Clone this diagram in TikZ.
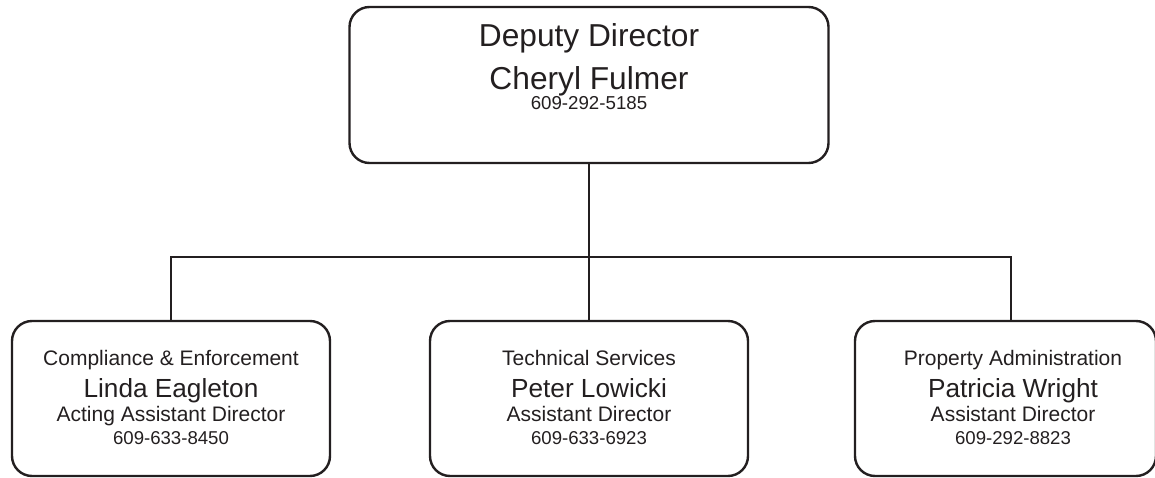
\documentclass[tikz,border=0pt]{standalone}
\usepackage{fontspec}
\setmainfont{Liberation Sans}
\usepackage{tikz}
\definecolor{ink}{HTML}{231F20}

\begin{document}
\begin{tikzpicture}[x=1pt, y=-1pt,
    unit/.style={draw=ink, line width=2.4pt, rounded corners=20pt, minimum width=318pt, minimum height=155pt, inner sep=0pt},
    info/.style={anchor=north, align=center, inner sep=0pt, text=ink, font=\fontsize{21}{30}\selectfont},
    link/.style={draw=ink, line width=2.4pt}]
  \useasboundingbox (0,0) rectangle (1155,478);
  \clip (0,0) rectangle (1155,478);
  % boxes
  \node[unit, minimum width=479pt, minimum height=156pt] (dep) at (589,85) {};
  \node[unit] (comp) at (171,398.5) {};
  \node[unit] (tech) at (589,398.5) {};
  \node[unit, minimum width=301pt] (prop) at (1005.5,398.5) {};
  % texts
  \node[info, font=\fontsize{31.7}{43}\selectfont] (deptext) at ([yshift=-17.3pt]dep.north) {Deputy Director\\Cheryl Fulmer\\[-23pt]{\fontsize{18.7}{20}\selectfont 609-292-5185}};
  \node[info] (comptext) at ([yshift=-30.7pt]comp.north) {Compliance \& Enforcement\\[2pt]{\fontsize{26.2}{30}\selectfont Linda Eagleton}\\[-6pt]Acting Assistant Director\\[-7pt]{\fontsize{18.6}{30}\selectfont 609-633-8450}};
  \node[info] (techtext) at ([yshift=-30.7pt]tech.north) {Technical Services\\[2pt]{\fontsize{26.2}{30}\selectfont Peter Lowicki}\\[-6pt]Assistant Director\\[-7pt]{\fontsize{18.6}{30}\selectfont 609-633-6923}};
  \node[info] (proptext) at ([yshift=-30.7pt,xshift=7.5pt]prop.north) {Property Administration\\[2pt]{\fontsize{26.2}{30}\selectfont Patricia Wright}\\[-6pt]Assistant Director\\[-7pt]{\fontsize{18.6}{30}\selectfont 609-292-8823}};
  % lines
  \coordinate (bus) at (589,257);
  \draw[link] (dep.south) -- (tech.north);
  \draw[link] (comp.north) |- (bus) -| ([xshift=5.5pt]prop.north);
\end{tikzpicture}
\end{document}
